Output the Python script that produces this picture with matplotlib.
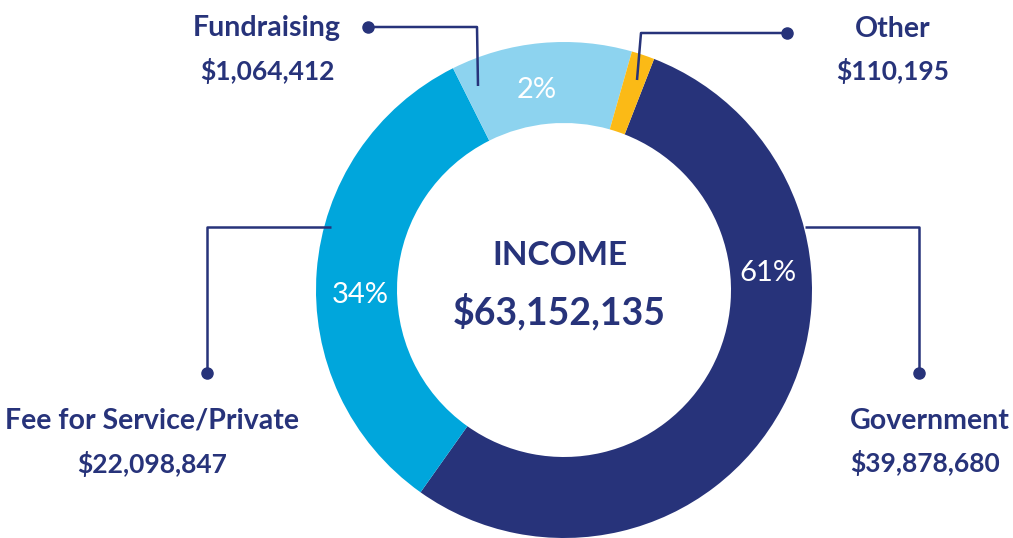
import matplotlib.pyplot as plt

# slices in drawing order (clockwise from the top-right)
categories = ['Government', 'Fee for Service/Private', 'Fundraising', 'Other']
amounts = ['$39,878,680', '$22,098,847', '$1,064,412', '$110,195']
pct_labels = ['61%', '34%', '2%', '']
# shares of the ring as drawn in the picture
slice_share = [53.9, 32.8, 11.8, 1.5]
colors = ['#27337a', '#00a6dc', '#8dd3ef', '#fbba16']

total_label = '$63,152,135'
navy = '#27337a'

plt.rcParams['font.family'] = ['Lato', 'DejaVu Sans']

fig = plt.figure(figsize=(10.13, 5.38), dpi=100)
ax = fig.add_axes([0, 0, 1, 1])

cx, cy, R = 564, 248, 248
wedges, _ = ax.pie(slice_share, colors=colors, startangle=68.7, counterclock=False,
                   center=(cx, cy), radius=R, frame=True,
                   wedgeprops=dict(width=81, linewidth=0))
ax.set_xlim(0, 1013)
ax.set_ylim(0, 538)
ax.set_aspect('equal')
ax.axis('off')

# percent labels inside the ring
pct_pos = [(768, 257), (360, 235), (537, 440)]
for txt, (x, y) in zip(pct_labels, pct_pos):
    ax.text(x, y, txt, color='white', fontsize=21, ha='center', va='baseline')

# centre text
ax.text(560, 273, 'INCOME', color=navy, fontsize=24, fontweight='bold', ha='center', va='baseline')
ax.text(559, 214, total_label, color=navy, fontsize=27, fontweight='bold', ha='center', va='baseline')

# leader lines: dot first, then elbow, then end on the ring
leaders = [
    [(919, 165), (919, 311), (805, 311)],
    [(207, 165), (207, 311), (331, 311)],
    [(368, 511), (477, 511), (478, 452)],
    [(787, 505), (641, 505), (637, 458)],
]
for pts in leaders:
    xs, ys = zip(*pts)
    ax.plot(xs, ys, color=navy, lw=1.8, solid_capstyle='butt')
    ax.plot(xs[0], ys[0], 'o', color=navy, ms=8)

# category names and amounts
label_pos = [(850, 109, 66, 'left'), (152, 109, 65, 'center'),
             (267, 502, 458, 'center'), (893, 501, 458, 'center')]
for name, amt, (x, y1, y2, ha) in zip(categories, amounts, label_pos):
    ax.text(x, y1, name, color=navy, fontsize=20.5, fontweight='bold', ha=ha, va='baseline')
    ax.text(x, y2, amt, color=navy, fontsize=19, fontweight='bold', ha=ha, va='baseline')

fig.savefig('out.png', dpi=100, facecolor='white')
